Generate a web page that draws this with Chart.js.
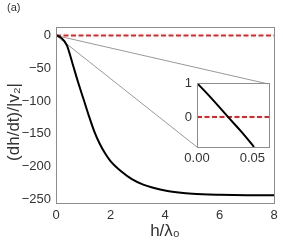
<!DOCTYPE html>
<html>
<head>
<meta charset="utf-8">
<script src="https://cdn.jsdelivr.net/npm/chart.js@4/dist/chart.umd.min.js"></script>
<style>
  body { margin: 0; background: #fff; }
  #wrap { position: relative; width: 283px; height: 246px; }
  #main { position: absolute; left: 0; top: 0; }
  #inset { position: absolute; left: 170px; top: 77px; }
</style>
</head>
<body>
<div id="wrap">
  <canvas id="main" width="283" height="246"></canvas>
  <canvas id="inset" width="106" height="95"></canvas>
</div>
<script>
// main curve
var hValues = [0, 0.2, 0.4, 0.6, 0.8, 1.0, 1.2, 1.4, 1.6, 1.8, 2.0, 2.4, 2.8, 3.2, 3.6, 4.0, 4.5, 5, 6, 7, 8];
var rateValues = [1, -4, -15, -42, -70, -96, -122, -146, -165, -180, -192, -208, -220, -228, -233, -237, -240, -242, -243.5, -244, -244];

// zoom connector lines (data units of the main axes)
var connectorTop = [[0, 0], [7.78, -74]];
var connectorBottom = [[0, 0], [5.19, -171]];

// inset curve
var insetH = [0, 0.01, 0.02, 0.03, 0.04, 0.05, 0.0515];
var insetRate = [1, 0.66, 0.3, -0.07, -0.43, -0.82, -0.88];

var mainXTicks = [0, 2, 4, 6, 8];
var insetYTicks = [0, 1];
var insetXTicks = [0, 0.05];

var yTitle = '(dh/dt)/|v\u2082|';
var xTitle = 'h/\u03bb\u2080';
var panelLabel = '(a)';

var textColor = '#333';
var frameColor = '#8c8c8c';
var fontFamily = '"Liberation Sans", Arial, sans-serif';

function pts(xs, ys) {
    return xs.map(function (x, i) { return { x: x, y: ys[i] }; });
}
function pairs(arr) {
    return arr.map(function (p) { return { x: p[0], y: p[1] }; });
}
function minus(v) {
    return String(v).replace('-', '\u2212');
}
// keep the plot box where the layout padding puts it
function noPadY(s, w) { s.width = w; s.paddingTop = 0; s.paddingBottom = 0; }
function noPadX(s, h) { s.height = h; s.paddingLeft = 0; s.paddingRight = 0; }

// box around the plot area, plus panel label and y title
var framePlugin = {
    id: 'frame',
    afterDraw: function (chart, args, opts) {
        var a = chart.chartArea, c = chart.ctx;
        c.save();
        c.strokeStyle = frameColor;
        c.lineWidth = 1;
        c.strokeRect(Math.round(a.left) + 0.5, Math.round(a.top) + 0.5,
            Math.round(a.right - a.left), Math.round(a.bottom - a.top));
        c.fillStyle = textColor;
        if (opts.label) {
            c.font = '11px ' + fontFamily;
            c.textBaseline = 'middle';
            c.fillText(opts.label, 7, 8);
        }
        if (opts.yTitle) {
            c.font = '17px ' + fontFamily;
            c.textAlign = 'center';
            c.textBaseline = 'middle';
            c.translate(14, 122);
            c.rotate(-Math.PI / 2);
            c.fillText(opts.yTitle, 0, 0);
        }
        c.restore();
    }
};

new Chart(document.getElementById('main'), {
    type: 'line',
    data: {
        datasets: [
            { data: pts(hValues, rateValues), borderColor: '#000', borderWidth: 2, pointRadius: 0, cubicInterpolationMode: 'monotone' },
            { data: pts([0, 8], [0, 0]), borderColor: 'rgb(240,30,30)', borderWidth: 2, borderDash: [5, 2.5], pointRadius: 0 },
            { data: pairs(connectorTop), borderColor: '#999', borderWidth: 1, pointRadius: 0 },
            { data: pairs(connectorBottom), borderColor: '#999', borderWidth: 1, pointRadius: 0 }
        ]
    },
    options: {
        responsive: false,
        animation: false,
        events: [],
        layout: { padding: { top: 27, right: 9, left: 0, bottom: 0 } },
        plugins: { legend: { display: false }, tooltip: { enabled: false }, frame: { label: panelLabel, yTitle: yTitle } },
        scales: {
            x: {
                type: 'linear', min: 0, max: 8,
                afterFit: function (s) { noPadX(s, 43); },
                afterBuildTicks: function (s) { s.ticks = mainXTicks.map(function (v) { return { value: v }; }); },
                grid: { display: false, drawTicks: false },
                border: { display: false },
                ticks: { color: textColor, padding: 5, maxRotation: 0, font: { size: 13, family: fontFamily } },
                title: { display: true, text: xTitle, color: textColor, padding: { top: 0 }, font: { size: 17, family: fontFamily } }
            },
            y: {
                type: 'linear', min: -256, max: 13,
                afterFit: function (s) { noPadY(s, 56); },
                grid: { display: false, drawTicks: false },
                border: { display: false },
                ticks: { stepSize: 50, includeBounds: false, color: textColor, padding: 5, font: { size: 13, family: fontFamily }, callback: minus }
            }
        }
    },
    plugins: [framePlugin]
});

new Chart(document.getElementById('inset'), {
    type: 'line',
    data: {
        datasets: [
            { data: pts(insetH, insetRate), borderColor: '#000', borderWidth: 2, pointRadius: 0, cubicInterpolationMode: 'monotone' },
            { data: pts([0, 0.065], [0, 0]), borderColor: 'rgb(240,30,30)', borderWidth: 2, borderDash: [5, 2.5], pointRadius: 0 }
        ]
    },
    options: {
        responsive: false,
        animation: false,
        events: [],
        layout: { padding: { top: 6, right: 7, left: 0, bottom: 0 } },
        plugins: { legend: { display: false }, tooltip: { enabled: false }, frame: {} },
        scales: {
            x: {
                type: 'linear', min: 0, max: 0.065,
                afterFit: function (s) { noPadX(s, 25); },
                afterBuildTicks: function (s) { s.ticks = insetXTicks.map(function (v) { return { value: v }; }); },
                grid: { display: false, drawTicks: false },
                border: { display: false },
                ticks: { color: textColor, padding: 4, maxRotation: 0, font: { size: 13, family: fontFamily }, callback: function (v) { return v.toFixed(2); } }
            },
            y: {
                type: 'linear', min: -0.88, max: 1,
                afterFit: function (s) { noPadY(s, 27); },
                afterBuildTicks: function (s) { s.ticks = insetYTicks.map(function (v) { return { value: v }; }); },
                grid: { display: false, drawTicks: false },
                border: { display: false },
                ticks: { color: textColor, padding: 5, font: { size: 13, family: fontFamily } }
            }
        }
    },
    plugins: [framePlugin]
});
</script>
</body>
</html>
